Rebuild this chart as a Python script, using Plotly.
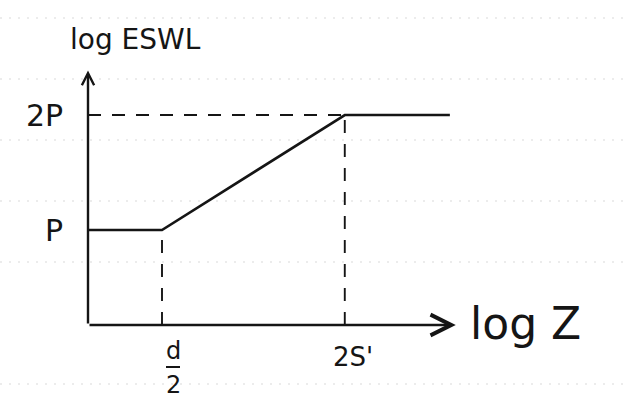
import plotly.graph_objects as go

# Idealised ESWL curve on log-log axes (arbitrary log units)
log_z = [0.0, 1.0, 3.47, 4.89]          # origin, d/2, 2S', end of plateau
log_eswl = [1.0, 1.0, 2.21, 2.21]       # P, P, 2P, 2P
x_tick_vals = [log_z[1], log_z[2]]
x_tick_text = ["d/2", "2S'"]
y_tick_vals = [log_eswl[0], log_eswl[2]]
y_tick_text = ["P", "2P"]

INK = "#151515"
FONT = "DejaVu Sans"

fig = go.Figure()

# faint ruled-paper lines in the background
for yp in [18, 79, 140, 201, 262, 384]:
    fig.add_shape(type="line", xref="paper", yref="paper",
                  x0=0, x1=1, y0=1 - yp / 408, y1=1 - yp / 408,
                  line=dict(color="#d9d9d9", width=1.2, dash="2px,7px"),
                  layer="below")

# guide lines (dashed)
dash = dict(color=INK, width=1.9, dash="13px,11px")
fig.add_trace(go.Scatter(x=[log_z[1], log_z[1]], y=[0, log_eswl[1]],
                         mode="lines", line=dash, hoverinfo="skip"))
fig.add_trace(go.Scatter(x=[log_z[0], log_z[2]], y=[log_eswl[2], log_eswl[2]],
                         mode="lines", line=dash, hoverinfo="skip"))
fig.add_trace(go.Scatter(x=[log_z[2], log_z[2]], y=[0, log_eswl[2]],
                         mode="lines", line=dash, hoverinfo="skip"))

# ESWL curve
fig.add_trace(go.Scatter(x=log_z, y=log_eswl, mode="lines",
                         line=dict(color=INK, width=2.6), hoverinfo="skip"))

# axes with arrow heads
fig.add_annotation(x=4.97, y=0, ax=0, ay=0, xref="x", yref="y",
                   axref="x", ayref="y", text="", showarrow=True,
                   arrowhead=5, arrowsize=1.7, arrowwidth=2.4,
                   arrowcolor=INK, standoff=0)
fig.add_annotation(x=0, y=2.68, ax=0, ay=0, xref="x", yref="y",
                   axref="x", ayref="y", text="", showarrow=True,
                   arrowhead=5, arrowsize=1.0, arrowwidth=2.4,
                   arrowcolor=INK, standoff=0)

# axis titles
fig.add_annotation(x=0, y=2.68, xref="x", yref="y", text="log ESWL",
                   showarrow=False, xanchor="left", yanchor="bottom",
                   xshift=-20, yshift=12, font=dict(family=FONT, size=28, color=INK))
fig.add_annotation(x=4.97, y=0, xref="x", yref="y", text="log Z",
                   showarrow=False, xanchor="left", yanchor="middle",
                   xshift=12, yshift=2, font=dict(family=FONT, size=44, color=INK))

# y labels
for v, t in zip(y_tick_vals, y_tick_text):
    fig.add_annotation(x=0, y=v, xref="x", yref="y", text=t, showarrow=False,
                       xanchor="right", yanchor="middle",
                       xshift=-23, yshift=0,
                       font=dict(family=FONT, size=30, color=INK))

# x labels: d/2 stacked as a fraction (numerator, bar, denominator), 2S' plain
num, den = x_tick_text[0].split("/")
frac_font = dict(family=FONT, size=24, color=INK)
fig.add_annotation(x=x_tick_vals[0], y=0, xref="x", yref="y", text=num,
                   showarrow=False, xanchor="center", yanchor="middle",
                   xshift=11, yshift=-26, font=frac_font)
fig.add_shape(type="line", xref="x", yref="y",
              xsizemode="pixel", ysizemode="pixel",
              xanchor=x_tick_vals[0], yanchor=0,
              x0=4, x1=18, y0=-42, y1=-42,
              line=dict(color=INK, width=2))
fig.add_annotation(x=x_tick_vals[0], y=0, xref="x", yref="y", text=den,
                   showarrow=False, xanchor="center", yanchor="middle",
                   xshift=11, yshift=-60, font=frac_font)
fig.add_annotation(x=x_tick_vals[1], y=0, xref="x", yref="y",
                   text=x_tick_text[1], showarrow=False,
                   xanchor="center", yanchor="middle", xshift=8, yshift=-32,
                   font=dict(family=FONT, size=26, color=INK))

fig.update_layout(
    width=624, height=408,
    margin=dict(l=0, r=0, t=0, b=0),
    paper_bgcolor="white", plot_bgcolor="white",
    showlegend=False,
    xaxis=dict(range=[-88 / 74, (624 - 88) / 74], visible=False, fixedrange=True),
    yaxis=dict(range=[-83 / 95, 325 / 95], visible=False, fixedrange=True),
)

fig.write_html("out.html")
